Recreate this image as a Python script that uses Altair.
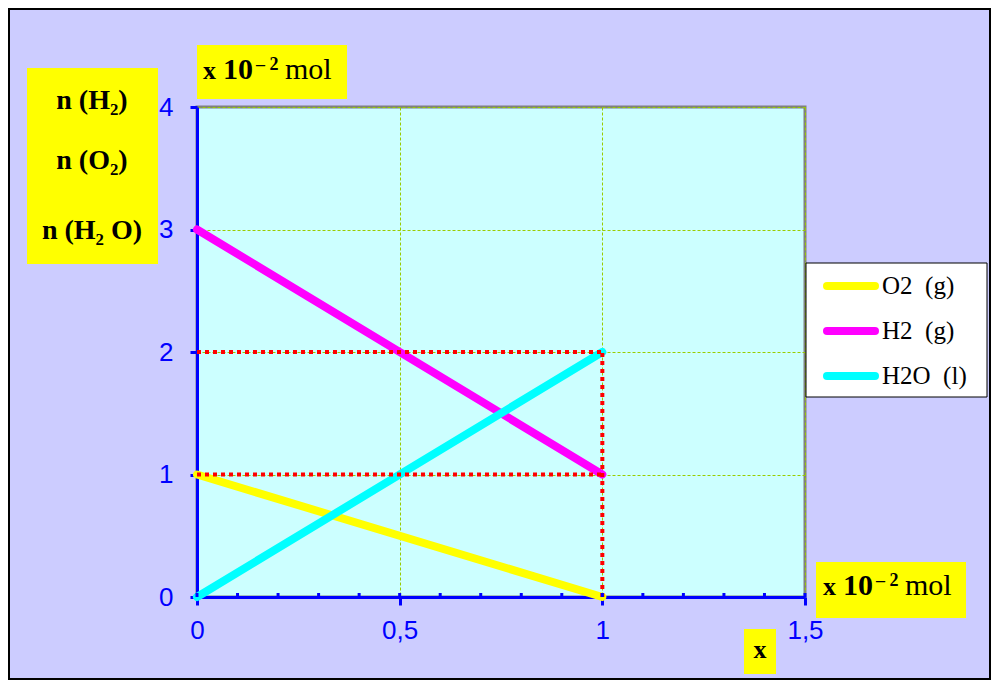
import altair as alt
import pandas as pd

# ---------------- data ----------------
x_points = [0, 1]
o2_values = [1, 0]
h2_values = [3, 1]
h2o_values = [0, 2]
series_names = ["O2\u00a0\u00a0(g)", "H2\u00a0\u00a0(g)", "H2O\u00a0\u00a0(l)"]
series_colors = ["#FFFF00", "#FF00FF", "#00FFFF"]

guide_x = [0, 0, 1]
guide_x2 = [1, 1, 1]
guide_y = [2, 1, 0]
guide_y2 = [2, 1, 2]

x_tick_values = [0, 0.5, 1, 1.5]
x_minor_ticks = [0, 0.1, 0.2, 0.3, 0.4, 0.5, 0.6, 0.7, 0.8, 0.9, 1.0,
                 1.1, 1.2, 1.3, 1.4, 1.5]
y_tick_values = [0, 1, 2, 3, 4]

y_label_lines = ["n (H\u2082)", "n (O\u2082)", "n (H\u2082 O)"]
unit_parts = ["x", "10", "\u2013 2", "mol"]
x_title = "x"

# ---------------- frames ----------------
rows = []
for name, vals in zip(series_names, [o2_values, h2_values, h2o_values]):
    for xv, yv in zip(x_points, vals):
        rows.append({"series": name, "x": xv, "n": yv})
df = pd.DataFrame(rows)
guides = pd.DataFrame({"x": guide_x, "x2": guide_x2, "y": guide_y, "y2": guide_y2})
minor = pd.DataFrame({"x": x_minor_ticks})
one = pd.DataFrame({"a": [0]})

W, H = 608, 490
x_scale = alt.Scale(domain=[0, 1.5], nice=False, zero=False)
y_scale = alt.Scale(domain=[0, 4], nice=False, zero=False)

x_axis = alt.Axis(values=x_tick_values, title=None, grid=True,
                  labelExpr="replace(toString(datum.value), '.', ',')",
                  tickSize=8, tickWidth=3, tickColor="#0000FF",
                  domainColor="#0000FF", domainWidth=3,
                  labelPadding=12, labelFontSize=26, labelFont="Liberation Sans",
                  labelColor="#0000FF", gridColor="#99CC00", gridDash=[3, 2],
                  gridWidth=1, labelFlush=False)
y_axis = alt.Axis(values=y_tick_values, title=None, grid=True, format="d",
                  tickSize=7, tickWidth=3, tickColor="#0000FF",
                  domainColor="#0000FF", domainWidth=3,
                  labelPadding=17, labelFontSize=26, labelFont="Liberation Sans",
                  labelColor="#0000FF", gridColor="#99CC00", gridDash=[3, 2],
                  gridWidth=1, labelFlush=False)

color_scale = alt.Scale(domain=series_names, range=series_colors)

lines = alt.Chart(df).mark_line(strokeWidth=8, strokeCap="round").encode(
    x=alt.X("x:Q", scale=x_scale, axis=x_axis),
    y=alt.Y("n:Q", scale=y_scale, axis=y_axis),
    color=alt.Color("series:N", scale=color_scale, legend=None),
    order=alt.Order("x:Q"),
)

red = alt.Chart(guides).mark_rule(color="#FF0000", strokeWidth=4, strokeDash=[4, 4]).encode(
    x=alt.X("x:Q", scale=x_scale), x2="x2:Q",
    y=alt.Y("y:Q", scale=y_scale), y2="y2:Q",
)

minor_ticks = alt.Chart(minor).mark_rule(color="#0000FF", strokeWidth=3).encode(
    x=alt.X("x:Q", scale=x_scale),
    y=alt.value(H - 4), y2=alt.value(H),
)


def box(x0, x1, y0, y1, fill="#FFFF00", stroke=None):
    kw = {"fill": fill}
    if stroke:
        kw.update(stroke=stroke, strokeWidth=1)
    return alt.Chart(one).mark_rect(**kw).encode(
        x=alt.value(x0), x2=alt.value(x1), y=alt.value(y0), y2=alt.value(y1))


def txt(s, x, y, size=24, bold=True, align="left", baseline="alphabetic"):
    return alt.Chart(pd.DataFrame({"t": [s]})).mark_text(
        font="Liberation Serif", fontSize=size,
        fontWeight="bold" if bold else "normal",
        align=align, baseline=baseline, color="black").encode(
        text="t:N", x=alt.value(x), y=alt.value(y))


frame = alt.Chart(one).mark_rect(fillOpacity=0, stroke="black", strokeWidth=2).encode(
    x=alt.value(-188), x2=alt.value(793), y=alt.value(-98), y2=alt.value(572))

# legend (drawn from the series names / colours)
legend_layers = [box(609, 790, 156, 290, fill="white", stroke="black")]
for i, (name, col) in enumerate(zip(series_names, series_colors)):
    yc = 179 + 45 * i
    legend_layers.append(
        alt.Chart(pd.DataFrame({"series": [name]})).mark_rule(strokeWidth=8, strokeCap="round").encode(
            x=alt.value(630), x2=alt.value(678), y=alt.value(yc),
            color=alt.Color("series:N", scale=color_scale, legend=None)))
    legend_layers.append(txt(name, 685, yc + 8, 25, bold=False))

decor = [
    frame,
    box(-170, -39, -39, 157),
    txt(y_label_lines[0], -105, 2, 28, align="center"),
    txt(y_label_lines[1], -105, 62, 28, align="center"),
    txt(y_label_lines[2], -105, 132, 28, align="center"),
    box(0, 150, -62, -8),
    txt(unit_parts[0], 6, -28, 26),
    txt(unit_parts[1], 26, -28, 30),
    txt(unit_parts[2], 59, -37, 18),
    txt(unit_parts[3], 88, -28, 30, bold=False),
    box(619, 769, 455, 511),
    txt(unit_parts[0], 626, 488, 26),
    txt(unit_parts[1], 646, 488, 30),
    txt(unit_parts[2], 679, 479, 18),
    txt(unit_parts[3], 708, 488, 30, bold=False),
    box(547, 579, 522, 567),
    txt(x_title, 563, 551, 26, align="center"),
]

chart = alt.layer(lines, red, minor_ticks, *decor, *legend_layers).properties(
    width=W, height=H,
    background="#CCCCFF",
    padding={"left": 189, "top": 99, "right": 186, "bottom": 83},
    autosize=alt.AutoSizeParams(type="none"),
).configure_view(fill="#CCFFFF", stroke="#808080", strokeWidth=3)

chart.save("out.html", embed_options={"renderer": "svg", "actions": False})
